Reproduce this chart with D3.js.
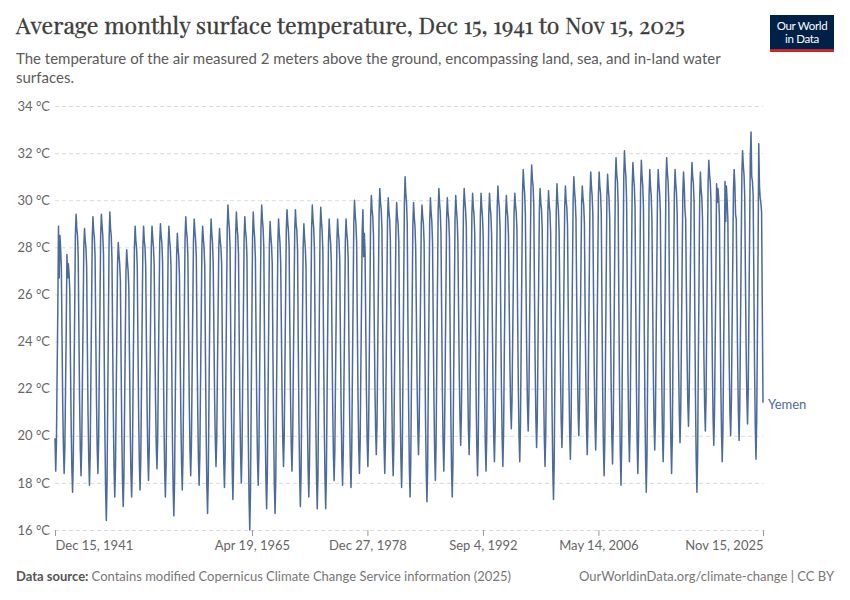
<!DOCTYPE html>
<html>
<head>
<meta charset="utf-8">
<script src="https://cdn.jsdelivr.net/npm/d3@7"></script>
<style>
  body { margin: 0; background: #fff; }
  svg { display: block; }
</style>
</head>
<body>
<div id="chart"></div>
<script>
// monthly mean temperature, Yemen (°C)
const firstValue = { year: 1941, month: 11, temp: 19.9 }; // Dec 1941
const firstYear = 1942;
const temps = [
  [18.5, 19.7, 22.5, 25.3, 28.9, 26.7, 28.5, 28.0, 27.2, 24.2, 21.3, 19.5], // 1942
  [18.4, 19.5, 21.9, 24.5, 27.7, 26.7, 27.3, 26.9, 26.2, 23.2, 20.4, 18.6],
  [17.6, 19.0, 22.1, 25.3, 28.5, 29.4, 28.8, 28.5, 27.6, 24.4, 21.4, 19.4],
  [18.3, 19.6, 22.3, 25.1, 28.0, 28.8, 28.3, 28.0, 27.2, 23.9, 20.9, 19.0],
  [17.9, 19.2, 22.2, 25.3, 28.4, 29.3, 28.7, 28.4, 27.6, 24.4, 21.5, 19.5],
  [18.4, 19.7, 22.6, 25.6, 28.5, 29.4, 28.9, 28.5, 27.7, 23.6, 20.0, 17.7],
  [16.4, 18.0, 21.4, 24.9, 28.4, 29.5, 28.8, 28.5, 27.5, 24.1, 20.8, 18.6],
  [17.4, 18.7, 21.5, 24.4, 27.3, 28.2, 27.7, 27.3, 26.6, 23.2, 20.1, 18.1],
  [17.0, 18.3, 21.1, 24.1, 27.0, 27.9, 27.4, 27.0, 26.3, 23.2, 20.3, 18.4], // 1950
  [17.4, 18.8, 21.8, 24.9, 28.0, 28.9, 28.3, 28.0, 27.2, 23.9, 20.8, 18.8],
  [17.7, 19.0, 22.0, 25.0, 28.0, 28.9, 28.3, 28.0, 27.2, 24.0, 21.1, 19.2],
  [18.1, 19.4, 22.2, 25.1, 28.0, 28.9, 28.4, 28.0, 27.3, 24.3, 21.5, 19.6],
  [18.6, 19.8, 22.6, 25.4, 28.2, 29.0, 28.5, 28.2, 27.4, 23.8, 20.6, 18.5],
  [17.4, 18.8, 21.8, 24.9, 28.0, 28.9, 28.3, 28.0, 27.2, 23.4, 20.0, 17.8],
  [16.6, 18.0, 21.2, 24.4, 27.6, 28.6, 28.0, 27.6, 26.8, 23.7, 20.8, 18.8],
  [17.7, 19.1, 22.1, 25.2, 28.4, 29.3, 28.7, 28.4, 27.6, 24.4, 21.4, 19.4],
  [18.3, 19.6, 22.4, 25.4, 28.3, 29.2, 28.7, 28.3, 27.6, 24.1, 21.1, 19.0],
  [17.9, 19.2, 22.1, 25.0, 28.0, 28.9, 28.4, 28.0, 27.2, 23.4, 20.1, 17.9],
  [16.7, 18.2, 21.5, 24.8, 28.2, 29.2, 28.6, 28.2, 27.3, 24.5, 21.6, 19.8], // 1960
  [18.7, 19.9, 22.5, 25.3, 28.0, 28.8, 28.3, 28.0, 27.3, 23.9, 20.9, 18.9],
  [17.8, 19.2, 22.4, 25.6, 28.8, 29.8, 29.2, 28.8, 28.0, 24.2, 20.8, 18.6],
  [17.3, 18.8, 21.9, 25.2, 28.5, 29.5, 28.9, 28.5, 27.7, 24.3, 21.2, 19.2],
  [18.0, 19.4, 22.3, 25.3, 28.4, 29.3, 28.7, 28.4, 27.6, 23.3, 19.7, 17.3],
  [16.0, 17.6, 21.1, 24.8, 28.4, 29.5, 28.8, 28.4, 27.5, 24.3, 21.1, 19.0],
  [17.9, 19.3, 22.4, 25.6, 28.8, 29.8, 29.2, 28.8, 28.0, 24.0, 20.5, 18.1],
  [16.9, 18.4, 21.5, 24.8, 28.1, 29.1, 28.5, 28.1, 27.3, 23.5, 20.2, 17.9],
  [16.7, 18.2, 21.5, 24.8, 28.2, 29.2, 28.6, 28.2, 27.3, 24.5, 21.6, 19.8],
  [18.7, 20.0, 22.8, 25.8, 28.7, 29.6, 29.1, 28.7, 28.0, 24.6, 21.6, 19.6],
  [18.5, 19.8, 22.7, 25.7, 28.7, 29.6, 29.0, 28.7, 27.9, 23.9, 20.5, 18.3], // 1970
  [17.0, 18.4, 21.6, 24.8, 28.0, 29.0, 28.4, 28.0, 27.2, 23.8, 20.7, 18.6],
  [17.4, 18.9, 22.1, 25.5, 28.8, 29.8, 29.2, 28.8, 27.9, 24.0, 20.5, 18.2],
  [16.9, 18.4, 21.8, 25.2, 28.7, 29.7, 29.1, 28.7, 27.8, 23.9, 20.5, 18.2],
  [16.9, 18.4, 21.6, 24.9, 28.2, 29.2, 28.6, 28.2, 27.4, 24.2, 21.2, 19.2],
  [18.1, 19.4, 22.3, 25.3, 28.3, 29.2, 28.6, 28.3, 27.5, 24.1, 21.1, 19.0],
  [17.9, 19.3, 22.2, 25.2, 28.3, 29.2, 28.6, 28.3, 27.5, 24.1, 21.0, 18.9],
  [17.8, 19.3, 22.4, 25.7, 29.0, 30.0, 29.4, 29.0, 28.2, 24.8, 21.6, 19.5],
  [18.4, 19.7, 22.6, 25.7, 28.7, 29.6, 27.6, 28.6, 27.8, 24.7, 21.8, 19.8],
  [18.7, 20.1, 23.1, 26.2, 29.3, 30.2, 29.6, 29.3, 28.5, 25.2, 22.2, 20.3],
  [19.2, 20.5, 23.5, 26.5, 29.5, 30.5, 29.9, 29.6, 28.8, 25.1, 21.8, 19.6], // 1980
  [18.4, 19.8, 22.8, 26.0, 29.2, 30.1, 29.5, 29.2, 28.3, 24.8, 21.6, 19.4],
  [18.3, 19.7, 22.7, 25.8, 28.9, 29.9, 29.3, 29.0, 28.2, 24.5, 21.2, 19.0],
  [17.8, 19.4, 22.8, 26.4, 29.9, 31.0, 30.3, 29.9, 29.0, 24.9, 21.2, 18.7],
  [17.4, 18.9, 22.2, 25.5, 28.9, 29.9, 29.3, 28.9, 28.0, 25.1, 22.2, 20.3],
  [19.2, 20.5, 23.2, 26.1, 29.0, 29.8, 29.3, 29.0, 28.2, 24.1, 20.7, 18.5],
  [17.2, 18.7, 22.1, 25.6, 29.1, 30.1, 29.5, 29.1, 28.2, 24.7, 21.5, 19.3],
  [18.1, 19.6, 22.8, 26.2, 29.5, 30.5, 29.9, 29.5, 28.6, 25.1, 21.9, 19.7],
  [18.5, 19.9, 22.9, 26.0, 29.2, 30.1, 29.5, 29.2, 28.4, 24.4, 20.9, 18.6],
  [17.4, 18.9, 22.3, 25.7, 29.2, 30.2, 29.6, 29.2, 28.3, 25.4, 22.6, 20.7],
  [19.6, 20.9, 23.7, 26.7, 29.6, 30.5, 30.0, 29.6, 28.9, 25.4, 22.4, 20.3], // 1990
  [19.2, 20.5, 23.4, 26.4, 29.4, 30.3, 29.7, 29.4, 28.6, 24.9, 21.6, 19.5],
  [18.3, 19.7, 22.9, 26.1, 29.3, 30.3, 29.7, 29.3, 28.5, 25.0, 21.8, 19.7],
  [18.5, 19.9, 23.0, 26.2, 29.4, 30.3, 29.7, 29.4, 28.5, 25.1, 22.1, 20.0],
  [18.9, 20.3, 23.3, 26.5, 29.7, 30.6, 30.0, 29.7, 28.8, 25.2, 22.0, 19.9],
  [18.7, 20.1, 23.1, 26.2, 29.3, 30.2, 29.6, 29.3, 28.5, 25.7, 23.1, 21.3],
  [20.3, 21.5, 24.1, 26.8, 29.5, 30.3, 29.8, 29.5, 28.8, 25.1, 22.1, 20.0],
  [18.9, 20.4, 23.6, 27.0, 30.3, 31.3, 30.7, 30.3, 29.4, 26.3, 23.3, 21.3],
  [20.2, 21.6, 24.5, 27.5, 30.5, 31.5, 30.9, 30.6, 29.8, 26.1, 22.9, 20.7],
  [19.5, 20.8, 23.7, 26.7, 29.6, 30.5, 29.9, 29.6, 28.8, 25.2, 22.0, 19.9],
  [18.7, 20.1, 23.1, 26.3, 29.5, 30.4, 29.8, 29.5, 28.6, 24.5, 21.0, 18.6], // 2000
  [17.3, 18.9, 22.4, 26.0, 29.6, 30.7, 30.0, 29.6, 28.7, 25.7, 22.6, 20.6],
  [19.5, 20.8, 23.7, 26.7, 29.7, 30.6, 30.0, 29.7, 28.9, 25.4, 22.3, 20.2],
  [19.0, 20.4, 23.6, 26.8, 30.0, 31.0, 30.4, 30.0, 29.2, 26.1, 23.1, 21.1],
  [20.0, 21.3, 24.0, 26.9, 29.8, 30.6, 30.1, 29.8, 29.0, 25.4, 22.4, 20.3],
  [19.2, 20.6, 23.8, 27.0, 30.2, 31.2, 30.6, 30.2, 29.4, 25.9, 22.7, 20.6],
  [19.4, 20.8, 23.9, 27.1, 30.3, 31.2, 30.6, 30.3, 29.4, 25.4, 21.9, 19.6],
  [18.3, 19.8, 23.2, 26.6, 30.1, 31.1, 30.5, 30.1, 29.2, 25.5, 22.3, 20.0],
  [18.8, 20.4, 23.7, 27.3, 30.8, 31.8, 31.1, 30.8, 29.8, 25.5, 21.8, 19.3],
  [17.9, 19.6, 23.3, 27.1, 31.0, 32.1, 31.4, 31.0, 30.0, 26.2, 22.6, 20.2],
  [18.9, 20.4, 23.7, 27.2, 30.6, 31.6, 31.0, 30.6, 29.7, 25.7, 22.1, 19.7], // 2010
  [18.4, 20.0, 23.5, 27.0, 30.6, 31.7, 31.0, 30.6, 29.7, 25.3, 21.5, 19.0],
  [17.6, 19.2, 22.8, 26.5, 30.2, 31.3, 30.6, 30.2, 29.2, 25.9, 22.7, 20.6],
  [19.4, 20.8, 23.9, 27.1, 30.3, 31.3, 30.7, 30.3, 29.5, 25.7, 22.4, 20.1],
  [18.9, 20.4, 23.8, 27.3, 30.8, 31.8, 31.2, 30.8, 29.9, 25.8, 22.2, 19.7],
  [18.4, 19.9, 23.3, 26.8, 30.3, 31.3, 30.7, 30.3, 29.4, 26.1, 23.0, 20.9],
  [19.7, 21.1, 24.1, 27.2, 30.3, 31.2, 30.6, 29.6, 29.2, 26.3, 23.4, 21.5],
  [20.4, 21.7, 24.7, 27.7, 30.7, 31.6, 31.0, 30.7, 29.9, 25.3, 21.5, 19.0],
  [17.6, 19.2, 22.8, 26.4, 30.1, 31.2, 30.5, 30.1, 29.2, 26.3, 23.3, 21.3],
  [20.2, 21.6, 24.6, 27.7, 30.8, 31.7, 31.1, 30.8, 30.0, 26.2, 23.0, 20.8],
  [19.6, 20.9, 23.8, 26.8, 30.7, 29.9, 30.5, 30.1, 29.3, 25.4, 22.2, 20.1], // 2020
  [18.9, 20.3, 23.4, 26.6, 30.8, 29.1, 30.6, 30.0, 29.2, 25.9, 23.0, 21.0],
  [20.0, 21.4, 24.3, 27.3, 30.4, 31.3, 30.7, 29.4, 29.2, 26.1, 23.0, 21.0],
  [19.8, 21.3, 24.5, 27.8, 31.1, 32.1, 31.5, 31.1, 30.2, 26.9, 23.8, 21.7],
  [20.5, 22.0, 25.2, 28.6, 31.9, 32.9, 31.0, 30.8, 30.2, 26.6, 22.9, 20.4],
  [19.0, 20.6, 24.0, 27.8, 32.4, 30.6, 30.1, 29.9, 29.5, 25.5, 21.4]        // 2025 (to Nov)
];
const seriesName = "Yemen";
const yTicks = [16, 18, 20, 22, 24, 26, 28, 30, 32, 34];
const xTickDates = [[1941, 11, 15], [1965, 3, 19], [1978, 11, 27], [1992, 8, 4], [2006, 4, 14], [2025, 10, 15]];
const xTickLabels = ["Dec 15, 1941", "Apr 19, 1965", "Dec 27, 1978", "Sep 4, 1992", "May 14, 2006", "Nov 15, 2025"];

const W = 850, H = 600;
const svg = d3.select("#chart").append("svg").attr("width", W).attr("height", H);
const sans = "Lato, 'Noto Sans', sans-serif";

// build the monthly series
const data = [{ date: new Date(Date.UTC(firstValue.year, firstValue.month, 15)), v: firstValue.temp }];
temps.forEach((row, i) => {
  row.forEach((v, m) => data.push({ date: new Date(Date.UTC(firstYear + i, m, 15)), v: v }));
});

const x = d3.scaleUtc()
  .domain([data[0].date, data[data.length - 1].date])
  .range([55, 763]);
const y = d3.scaleLinear().domain([16, 34]).range([530, 106]);

// header
svg.append("text")
  .attr("x", 16).attr("y", 34)
  .attr("font-family", "'Playfair Display', 'Liberation Serif', serif")
  .attr("font-size", 23).attr("fill", "#3d3d3d")
  .attr("stroke", "#3d3d3d").attr("stroke-width", 0.35)
  .text("Average monthly surface temperature, Dec 15, 1941 to Nov 15, 2025");

const sub = svg.append("text")
  .attr("font-family", sans).attr("font-size", 15).attr("fill", "#5b5b5b");
sub.append("tspan").attr("x", 16).attr("y", 64)
  .text("The temperature of the air measured 2 meters above the ground, encompassing land, sea, and in-land water");
sub.append("tspan").attr("x", 16).attr("y", 83).text("surfaces.");

// logo
const logo = svg.append("g").attr("transform", "translate(770,15)");
logo.append("rect").attr("width", 64).attr("height", 37).attr("fill", "#002147");
logo.append("rect").attr("y", 34).attr("width", 64).attr("height", 3).attr("fill", "#ce261e");
logo.append("text").attr("x", 32).attr("y", 15).attr("text-anchor", "middle")
  .attr("font-family", sans).attr("font-size", 11.5).attr("fill", "#fff").attr("letter-spacing", -0.3)
  .text("Our World");
logo.append("text").attr("x", 32).attr("y", 28).attr("text-anchor", "middle")
  .attr("font-family", sans).attr("font-size", 11.5).attr("fill", "#fff").attr("letter-spacing", -0.3)
  .text("in Data");

// y grid + labels
const yAxis = svg.append("g")
  .attr("transform", "translate(55,0)")
  .call(d3.axisLeft(y).tickValues(yTicks).tickSize(-708).tickFormat(d => d + " °C").tickPadding(5));
yAxis.select(".domain").remove();
yAxis.selectAll(".tick line").attr("stroke", "#dadada").attr("stroke-dasharray", "4,3");
yAxis.selectAll(".tick text")
  .attr("font-family", sans).attr("font-size", 13).attr("fill", "#666");

// x ticks
const xAxis = svg.append("g")
  .attr("transform", "translate(0,530)")
  .call(d3.axisBottom(x)
    .tickValues(xTickDates.map(d => new Date(Date.UTC(d[0], d[1], d[2]))))
    .tickFormat((d, i) => xTickLabels[i])
    .tickSize(6).tickPadding(5));
xAxis.select(".domain").remove();
xAxis.selectAll(".tick line").attr("stroke", "#999");
xAxis.selectAll(".tick text")
  .attr("font-family", sans).attr("font-size", 13).attr("fill", "#666")
  .attr("text-anchor", (d, i) => i === 0 ? "start" : (i === xTickLabels.length - 1 ? "end" : "middle"));

// the line
const line = d3.line().x(d => x(d.date)).y(d => y(d.v));
svg.append("path")
  .datum(data)
  .attr("fill", "none")
  .attr("stroke", "#4c6a9c")
  .attr("stroke-width", 1.5)
  .attr("stroke-linejoin", "round")
  .attr("d", line);

const last = data[data.length - 1];
svg.append("text")
  .attr("x", x(last.date) + 5).attr("y", y(last.v) + 2)
  .attr("dy", "0.35em")
  .attr("font-family", sans).attr("font-size", 13).attr("fill", "#4c6a9c")
  .text(seriesName);

// footer
const foot = svg.append("text")
  .attr("x", 16).attr("y", 581)
  .attr("font-family", sans).attr("font-size", 13).attr("fill", "#777");
foot.append("tspan").attr("font-weight", "bold").attr("fill", "#555").text("Data source: ");
foot.append("tspan").text("Contains modified Copernicus Climate Change Service information (2025)");

svg.append("text")
  .attr("x", 834).attr("y", 581).attr("text-anchor", "end")
  .attr("font-family", sans).attr("font-size", 13).attr("fill", "#777")
  .text("OurWorldinData.org/climate-change | CC BY");
</script>
</body>
</html>
